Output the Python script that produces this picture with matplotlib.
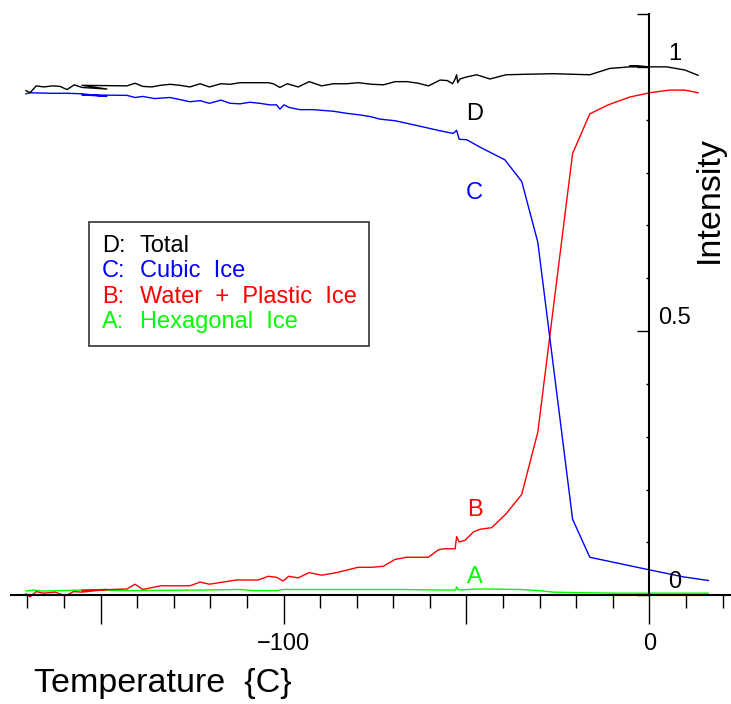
import numpy as np
import matplotlib
matplotlib.use("Agg")
import matplotlib.pyplot as plt
from matplotlib.patches import Rectangle
from matplotlib import transforms

plt.rcParams['font.family'] = ['Liberation Sans', 'DejaVu Sans']

## values (temperature in C, intensity)

# D: total
temp_d = [-170.4, -169.3, -167.6, -165.6, -163.0, -161.1, -159.2, -157.2, -155.1, -148.3,
          -155.1, -142.8, -140.6, -138.5, -136.0, -133.7, -131.0, -128.3, -125.6, -122.8,
          -120.3, -117.1, -114.6, -111.9, -107.3, -104.2, -102.8, -101.0, -99.0, -96.0,
          -93.0, -89.6, -86.4, -82.7, -79.6, -75.9, -72.7, -69.5, -66.3, -63.2,
          -60.4, -57.2, -55.2, -53.8, -53.1, -52.7, -52.4, -51.8, -49.9, -47.2,
          -43.6, -39.2, -33.6, -26.3, -16.3, -10.8, -5.3, 0.0, -5.3, 0.0,
          4.7, 9.7, 13.3]
total_d = [0.955, 0.951, 0.964, 0.962, 0.964, 0.963, 0.957, 0.966, 0.961, 0.958,
           0.965, 0.964, 0.969, 0.963, 0.962, 0.965, 0.967, 0.965, 0.962, 0.968,
           0.962, 0.968, 0.967, 0.970, 0.970, 0.970, 0.968, 0.961, 0.968, 0.962,
           0.972, 0.964, 0.968, 0.968, 0.970, 0.967, 0.966, 0.972, 0.972, 0.969,
           0.964, 0.975, 0.974, 0.968, 0.977, 0.985, 0.970, 0.977, 0.981, 0.985,
           0.977, 0.985, 0.986, 0.987, 0.985, 0.997, 1.000, 1.000, 1.002, 1.000,
           1.000, 0.994, 0.984]

# C: cubic ice
temp_c = [-170.4, -169.3, -163.8, -159.2, -155.1, -148.3, -155.1, -142.8, -140.6, -138.5,
          -135.3, -131.0, -125.6, -122.8, -120.3, -117.1, -114.6, -111.9, -109.2, -106.5,
          -103.7, -101.9, -101.0, -99.9, -98.4, -95.5, -91.9, -86.4, -82.7, -79.1,
          -76.4, -73.6, -69.5, -63.6, -57.2, -53.6, -52.7, -52.0, -49.9, -46.3,
          -39.5, -34.9, -30.5, -21.0, -16.3, 0.1, 9.2, 16.1]
cubic_c = [0.949, 0.951, 0.950, 0.950, 0.949, 0.944, 0.947, 0.946, 0.942, 0.944,
           0.940, 0.942, 0.934, 0.936, 0.931, 0.937, 0.931, 0.930, 0.933, 0.931,
           0.928, 0.928, 0.920, 0.928, 0.923, 0.919, 0.919, 0.916, 0.912, 0.909,
           0.906, 0.901, 0.898, 0.889, 0.879, 0.874, 0.880, 0.863, 0.862, 0.848,
           0.824, 0.783, 0.668, 0.144, 0.072, 0.048, 0.035, 0.028]

# B: water + plastic ice
temp_b = [-170.4, -169.3, -167.6, -165.6, -162.4, -159.7, -157.4, -155.1, -148.3, -155.1,
          -142.8, -140.6, -138.5, -133.5, -125.6, -122.8, -120.3, -112.8, -106.9, -104.2,
          -101.9, -100.1, -98.6, -96.0, -93.0, -89.6, -85.5, -79.6, -75.9, -72.7,
          -69.5, -66.3, -60.4, -57.7, -56.3, -53.1, -52.7, -52.0, -50.4, -48.1,
          -46.3, -43.1, -39.2, -34.9, -30.5, -21.0, -16.3, -11.3, -5.3, 0.1,
          5.5, 9.7, 13.3]
water_b = [0.003, -0.003, 0.007, 0.004, 0.006, -0.001, 0.007, 0.006, 0.011, 0.009,
           0.012, 0.021, 0.011, 0.018, 0.018, 0.025, 0.021, 0.029, 0.029, 0.036,
           0.034, 0.027, 0.036, 0.033, 0.043, 0.038, 0.043, 0.053, 0.053, 0.055,
           0.068, 0.072, 0.072, 0.086, 0.088, 0.088, 0.111, 0.101, 0.104, 0.120,
           0.125, 0.128, 0.154, 0.191, 0.309, 0.836, 0.911, 0.928, 0.943, 0.951,
           0.956, 0.956, 0.951]

# A: hexagonal ice
temp_a = [-170.4, -168.4, -165.6, -155.1, -148.3, -155.1, -141.0, -122.8, -111.9, -108.4,
          -101.9, -100.1, -86.5, -68.2, -57.2, -53.0, -52.7, -52.3, -46.3, -35.4,
          -30.5, -26.3, -19.9, -8.1, 0.0, 16.1]
hex_a = [0.008, 0.010, 0.008, 0.010, 0.011, 0.010, 0.009, 0.010, 0.011, 0.009,
         0.009, 0.011, 0.011, 0.011, 0.010, 0.010, 0.016, 0.010, 0.012, 0.011,
         0.009, 0.006, 0.005, 0.004, 0.004, 0.004]

xticks_major = [-150, -100, -50, 0]
xtick_labels = ['', '\u2212100', '', '0']
xticks_minor = np.arange(-170, 21, 10)
yticks_major = [0, 0.5, 1.0, 1.1]
yticks_minor = np.arange(0, 1.1, 0.1)
ytick_text = [(0, '0'), (0.5, '0.5'), (1.0, '1')]

curve_letters = ['D', 'C', 'B', 'A']
curve_letter_y = [0.900, 0.749, 0.150, 0.024]
legend_keys = ['D:', 'C:', 'B:', 'A:']
legend_names = ['Total', 'Cubic  Ice', 'Water  +  Plastic  Ice', 'Hexagonal  Ice']
colors = ['#000000', '#0000ff', '#ff0000', '#00ff00']

W, H = 731, 704


def fx(px):
    return px / W


def fy(py):
    return 1 - py / H


fig = plt.figure(figsize=(W / 100, H / 100), dpi=100)
ax = fig.add_axes([fx(11), fy(595.3), 720 / W, (595.3 - 14) / H])
ax.set_xlim(-174.5, 22.3)
ax.set_ylim(0, 1.1)

series = [(temp_d, total_d), (temp_c, cubic_c), (temp_b, water_b), (temp_a, hex_a)]
for (t, v), col in zip(series[::-1], colors[::-1]):
    ax.plot(t, v, color=col, lw=1.0, clip_on=False)

for s in ['top', 'right']:
    ax.spines[s].set_visible(False)
ax.spines['left'].set_position(('data', 0))
ax.spines['left'].set_linewidth(1.5)
ax.spines['bottom'].set_linewidth(1.5)

ax.set_xticks(xticks_major)
ax.set_xticklabels(xtick_labels)
ax.set_xticks(xticks_minor, minor=True)
ax.tick_params(axis='x', which='major', direction='out', length=21, width=1.0,
               labelsize=17, pad=6.5)
ax.tick_params(axis='x', which='minor', direction='out', length=9.5, width=1.0)

ax.set_yticks(yticks_major)
ax.set_yticklabels([])
ax.set_yticks(yticks_minor, minor=True)
ax.tick_params(axis='y', which='major', direction='out', length=9, width=1.0)
ax.tick_params(axis='y', which='minor', direction='out', length=2.5, width=1.0)

# y tick labels sit to the right of the axis, a little above the tick
lab_tr = transforms.offset_copy(ax.transData, fig=fig, x=25.5, y=7, units='dots')
for v, s in ytick_text:
    ax.text(0, v, s, transform=lab_tr, ha='center', va='baseline', fontsize=17)

# letters on the curves
for letter, yv, col in zip(curve_letters, curve_letter_y, colors):
    ax.text(-47.8, yv, letter, color=col, ha='center', va='baseline', fontsize=17)

# legend box
fig.add_artist(Rectangle((fx(89), fy(346)), (369 - 89) / W, (346 - 222) / H,
                         transform=fig.transFigure, fill=False,
                         edgecolor='#333333', lw=1.2))
for i, (k, name, col) in enumerate(zip(legend_keys, legend_names, colors)):
    yb = fy(251.7 + 25.6 * i)
    fig.text(fx(101.7), yb, k, color=col, fontsize=17, va='baseline')
    fig.text(fx(139.5), yb, name, color=col, fontsize=17, va='baseline')

fig.text(fx(34), fy(692), 'Temperature  {C}', fontsize=24.5, va='baseline', ha='left')
fig.text(fx(709), fy(200), 'Intensity', fontsize=24.5, rotation=90,
         ha='center', va='center')

fig.savefig('out.png', dpi=100)
